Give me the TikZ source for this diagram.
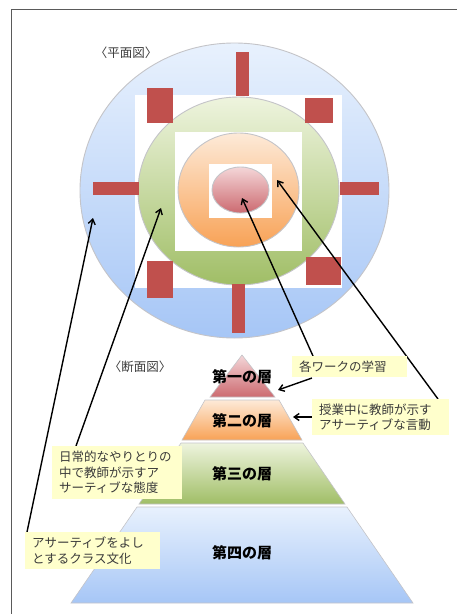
\documentclass[tikz,border=0pt]{standalone}
\usepackage{fontspec}
\newfontfamily\jp{Noto Sans CJK JP}
\usetikzlibrary{shapes.geometric,arrows.meta}
\definecolor{framec}{HTML}{5A5A5A}
\definecolor{ringline}{HTML}{C4C4C8}
\definecolor{bluetop}{HTML}{E8F1FD}
\definecolor{bluebot}{HTML}{A6C6F6}
\definecolor{greentop}{HTML}{EEF4DE}
\definecolor{greenbot}{HTML}{A0BE66}
\definecolor{orangetop}{HTML}{FDEAD8}
\definecolor{orangebot}{HTML}{F8A256}
\definecolor{pinktop}{HTML}{F4D6D8}
\definecolor{pinkbot}{HTML}{CC6A70}
\definecolor{barred}{HTML}{C0504D}
\definecolor{boxyellow}{HTML}{FFFFCC}
\definecolor{txtgray}{HTML}{3A3A3A}
\begin{document}
\begin{tikzpicture}[x=1pt,y=-1pt,
  ring/.style={ellipse,draw=ringline,line width=0.9pt,inner sep=0pt},
  bar/.style={fill=barred},
  layer/.style={draw=ringline,line width=0.6pt},
  layertext/.style={font=\jp\bfseries\fontsize{15}{17}\selectfont,text=black},
  lbl/.style={fill=boxyellow,inner xsep=7pt,inner ysep=0pt,anchor=north west,
    text=txtgray,align=left,font=\jp\fontsize{12.5}{15.5}\selectfont},
  title/.style={text=txtgray,font=\jp\fontsize{12.5}{15}\selectfont},
  arr/.style={line width=1.4pt,-{Straight Barb[length=5pt,width=7pt]}}]
\useasboundingbox (0,0) rectangle (457,614);
\draw[framec,line width=0.9pt] (11,614) -- (11,9.5) -- (457,9.5);

% plan view
\node[ring,minimum width=309,minimum height=295,top color=bluetop,bottom color=bluebot] (outer) at (234.5,190.5) {};
\fill[white] (135,95) rectangle (342,288);
\node[ring,minimum width=201,minimum height=188,top color=greentop,bottom color=greenbot] (mid) at (238.5,191) {};
\fill[white] (175,132) rectangle (302,251);
\node[ring,minimum width=121,minimum height=114,top color=orangetop,bottom color=orangebot] (inner) at (238.5,190) {};
\fill[white] (209,164) rectangle (272,218);
\node[ring,minimum width=57,minimum height=46,top color=pinktop,bottom color=pinkbot] (core) at (240.5,190) {};

\fill[bar] (236,52) rectangle (249,96);
\fill[bar] (232,284) rectangle (245,333);
\fill[bar] (93,182) rectangle (139,195);
\fill[bar] (340,182) rectangle (379,195);
\fill[bar] (147,88) rectangle (173,123);
\fill[bar] (305,98) rectangle (333,123);
\fill[bar] (147,261) rectangle (173,298);
\fill[bar] (306,257) rectangle (341,285);

\node[title] (plan) at (126,53) {〈平面図〉};

% section view
\node[title] (section) at (140,367) {〈断面図〉};
\path[layer,top color=pinktop,bottom color=pinkbot] (242,355) -- (275,397) -- (210,397) -- cycle;
\path[layer,top color=orangetop,bottom color=orangebot] (205,400) -- (279,400) -- (302,440) -- (182,440) -- cycle;
\path[layer,top color=greentop,bottom color=greenbot] (181,443) -- (303,443) -- (345,504) -- (139,504) -- cycle;
\path[layer,top color=bluetop,bottom color=bluebot] (137,507) -- (347,507) -- (413,603) -- (71,603) -- cycle;
\node[layertext] (l1) at (242,377) {第一の層};
\node[layertext] (l2) at (242,421) {第二の層};
\node[layertext] (l3) at (242,474) {第三の層};
\node[layertext] (l4) at (242,553) {第四の層};

% arrow ends
\coordinate (hA) at (93,218);
\coordinate (tA) at (27,532);
\coordinate (hB) at (161,208);
\coordinate (tB) at (76,446);
\coordinate (hC) at (242,198);
\coordinate (tC) at (313,356);
\coordinate (hD) at (277,180);
\coordinate (tD) at (438,399);
\coordinate (hE) at (278,390);
\coordinate (tE) at (312,378);
\coordinate (hF) at (293,417);
\coordinate (tF) at (312,417);
\draw[arr] (tA) -- (hA);
\draw[arr] (tB) -- (hB);
\draw[arr] (tC) -- (hC);
\draw[arr] (tD) -- (hD);
\draw[arr] (tE) -- (hE);
\draw[arr] (tF) -- (hF);

% labels
\node[lbl,text width=101pt,minimum height=21pt] (b1) at (292,356) {各ワークの学習};
\node[lbl,text width=123pt,minimum height=36pt] (b2) at (312,399) {授業中に教師が示す\\アサーティブな言動};
\node[lbl,text width=116pt,minimum height=53pt] (b3) at (52,446) {日常的なやりとりの\\中で教師が示すア\\サーティブな態度};
\node[lbl,text width=121pt,minimum height=37pt] (b4) at (25,532) {アサーティブをよし\\とするクラス文化};
\end{tikzpicture}
\end{document}
